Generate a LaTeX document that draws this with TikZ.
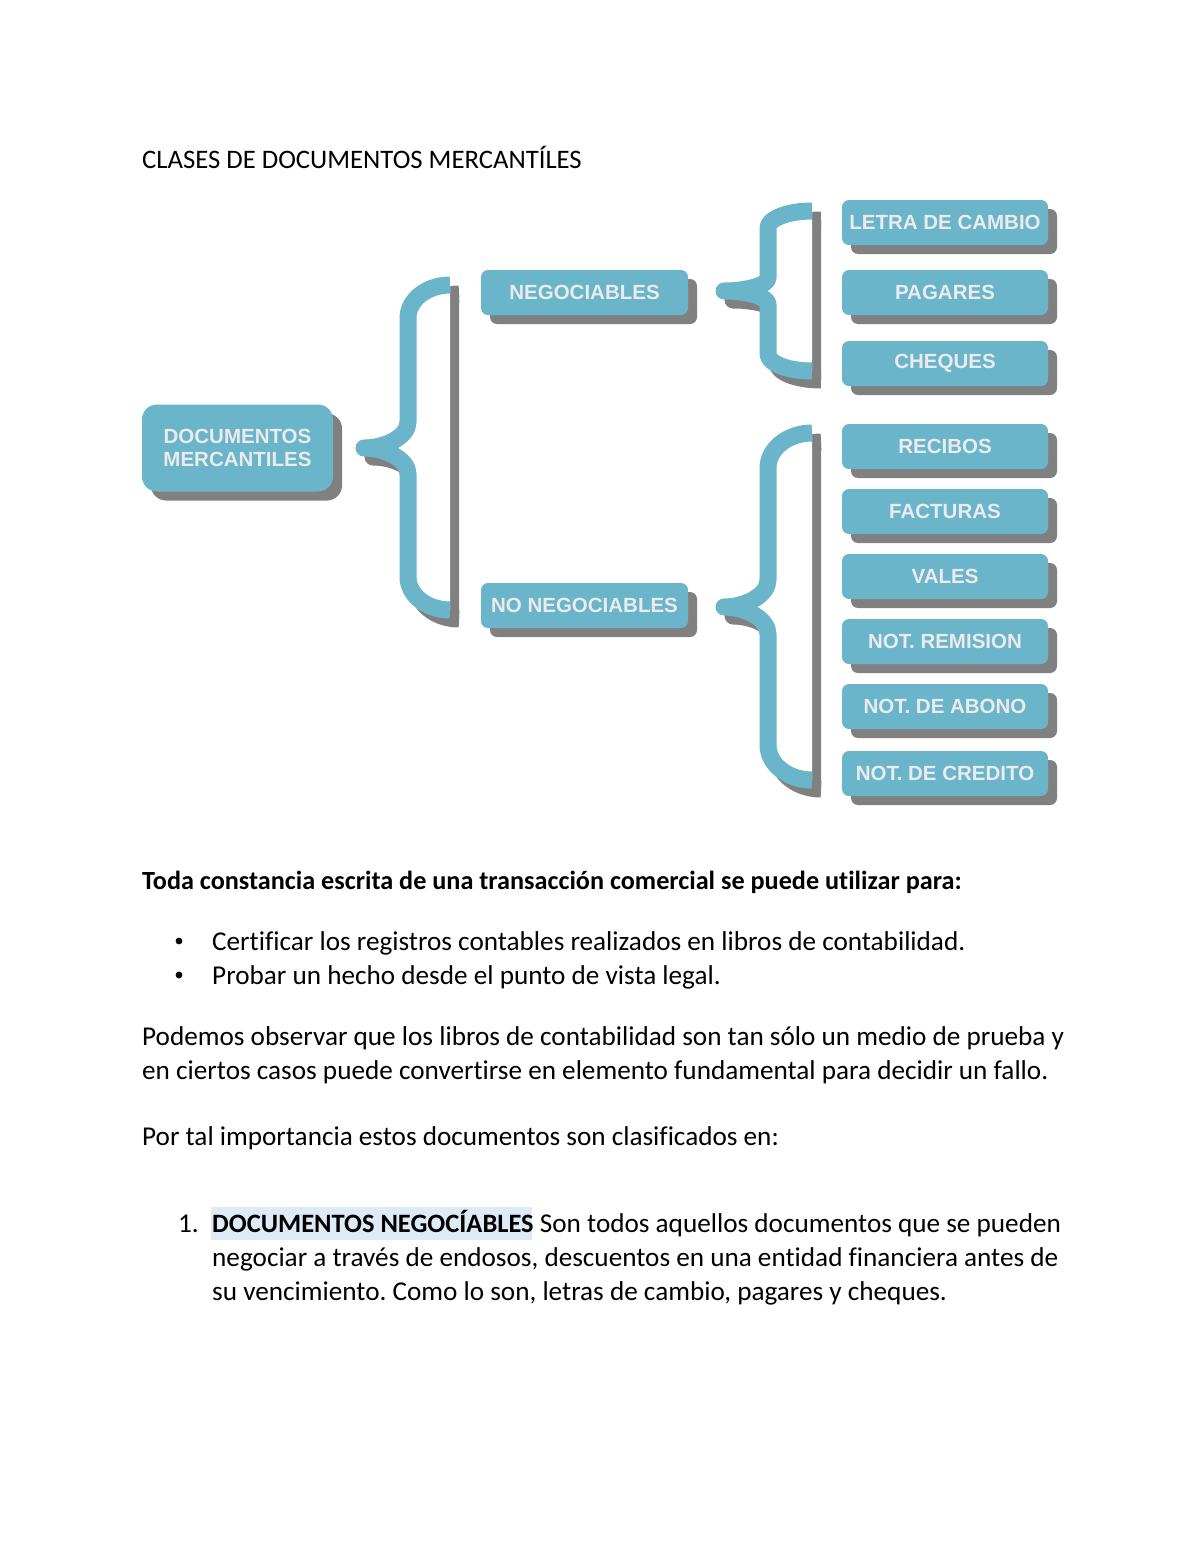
\documentclass[tikz,border=0pt]{standalone}
\usepackage{fontspec}
\setmainfont{Carlito}[Ligatures={NoCommon}]
\newfontfamily\arialf{Liberation Sans}
\usetikzlibrary{shadows}
\frenchspacing
\definecolor{boxblue}{HTML}{6AB5CA}
\definecolor{boxtxt}{HTML}{EBEBEB}
\definecolor{shgray}{HTML}{808080}
\definecolor{hlblue}{HTML}{DEEAF6}
\newcommand\bpath[2]{\path[#1] (\bXe,\bYt) .. controls ({\bXe-0.55*(\bXe-\bXv)},\bYt) and (\bXv,{\bYt+0.45*\bRy}) .. (\bXv,{\bYt+\bRy}) -- (\bXv,{\bYm-\bRt}) .. controls (\bXv,{\bYm-0.45*\bRt}) and ({\bXt+0.5*(\bXv-\bXt)},\bYm) .. (\bXt,\bYm) .. controls ({\bXt+0.5*(\bXv-\bXt)},\bYm) and (\bXv,{\bYm+0.45*\bRt}) .. (\bXv,{\bYm+\bRt}) -- (\bXv,{\bYb-\bRy}) .. controls (\bXv,{\bYb-0.45*\bRy}) and ({\bXe-0.55*(\bXe-\bXv)},\bYb) .. (\bXe,\bYb) #2;}
\newcommand\mybrace[8]{\def\bXe{#1}\def\bXv{#2}\def\bXt{#3}\def\bYt{#4}\def\bYm{#5}\def\bYb{#6}\def\bRy{#7}\def\bRt{#8}%
 \bpath{fill=shgray,shift={(9,9)}}{-- cycle}%
 \bpath{draw=shgray,line width=17pt,line join=round,shift={(9,9)}}{}%
 \bpath{fill=white}{-- cycle}%
 \bpath{draw=boxblue,line width=17pt,line join=round}{}}
\begin{document}
\begin{tikzpicture}[x=1pt,y=-1pt,
  rbox/.style={fill=boxblue, rounded corners=7pt, minimum width=206pt, minimum height=45pt, inner sep=0pt, text=boxtxt,
    font=\arialf\bfseries\fontsize{20.5}{23.5}\selectfont,
    drop shadow={shadow xshift=9pt, shadow yshift=-9pt, fill=shgray, opacity=1}},
  body/.style={anchor=base west, inner sep=0pt, font=\fontsize{27.2}{34}\selectfont}]
\fill[white] (0,0) rectangle (1200,1553);
\useasboundingbox (0,0) rectangle (1200,1553);
% braces
\mybrace{450}{408}{364}{285}{448}{610}{33}{26}
\mybrace{812}{768}{724}{211}{291}{371}{17}{13}
\mybrace{812}{768}{724}{433}{607}{780}{35}{27}
% boxes
\node[rbox, minimum width=191pt, minimum height=87pt, rounded corners=15pt, align=center] (docm) at (237.5,448) {DOCUMENTOS\\MERCANTILES};
\node[rbox, minimum width=207pt] (neg) at (584.5,292.5) {NEGOCIABLES};
\node[rbox, minimum width=207pt] (noneg) at (584.5,605.5) {NO NEGOCIABLES};
\node[rbox] (letra) at (945,222.5) {LETRA DE CAMBIO};
\node[rbox] (pag) at (945,292.5) {PAGARES};
\node[rbox] (cheq) at (945,363.5) {CHEQUES};
\node[rbox] (rec) at (945,446.5) {RECIBOS};
\node[rbox] (fac) at (945,511.5) {FACTURAS};
\node[rbox] (val) at (945,576.5) {VALES};
\node[rbox] (rem) at (945,641.5) {NOT. REMISION};
\node[rbox] (abo) at (945,706.5) {NOT. DE ABONO};
\node[rbox] (cred) at (945,773.5) {NOT. DE CREDITO};
% text
\node[body, font=\fontsize{26.7}{34}\selectfont] (title) at (142,168) {CLASES DE DOCUMENTOS MERCANTÍLES};
\node[body, font=\fontsize{26.2}{34}\selectfont\bfseries] (head) at (142,889) {Toda constancia escrita de una transacción comercial se puede utilizar para:};
\fill (179,941) circle (3.4pt);
\fill (179,975) circle (3.4pt);
\node[body] (b1) at (212,950) {Certificar los registros contables realizados en libros de contabilidad.};
\node[body] (b2) at (212,984) {Probar un hecho desde el punto de vista legal.};
\node[body] (p1) at (142,1045) {Podemos observar que los libros de contabilidad son tan sólo un medio de prueba y};
\node[body] (p2) at (142,1079) {en ciertos casos puede convertirse en elemento fundamental para decidir un fallo.};
\node[body] (p3) at (142,1145) {Por tal importancia estos documentos son clasificados en:};
\fill[hlblue] (211,1207) rectangle (532,1240);
\node[body] (n1) at (178,1232) {1.};
\node[body] (i1) at (212,1232) {{\fontsize{26.5}{34}\selectfont\bfseries DOCUMENTOS NEGOCÍABLES} Son todos aquellos documentos que se pueden};
\node[body] (i2) at (212,1266) {negociar a través de endosos, descuentos en una entidad financiera antes de};
\node[body] (i3) at (212,1300) {su vencimiento. Como lo son, letras de cambio, pagares y cheques.};
\end{tikzpicture}
\end{document}
